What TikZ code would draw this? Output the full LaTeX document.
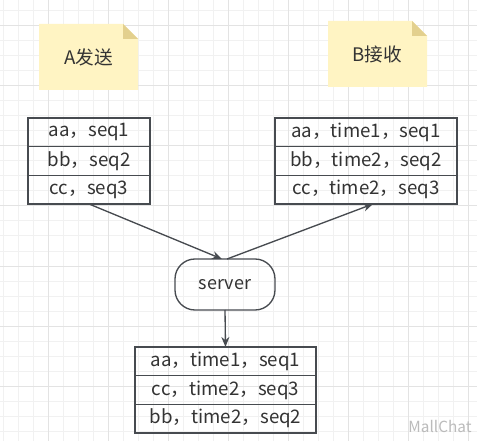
\documentclass[tikz,border=0pt]{standalone}
\usepackage{fontspec}
\setmainfont{Noto Sans CJK SC}
\usetikzlibrary{calc,positioning,arrows.meta}
\definecolor{gridminor}{HTML}{F1F1F1}
\definecolor{gridmajor}{HTML}{E3E3E3}
\definecolor{linegray}{HTML}{474B50}
\definecolor{textgray}{HTML}{333333}
\definecolor{notefill}{HTML}{FFF4C3}
\definecolor{notefold}{HTML}{E3D08E}
\definecolor{markgray}{HTML}{BBBBBB}
\tikzset{
  row/.style={draw=linegray, line width=1pt, outer sep=0pt, inner sep=0pt,
    minimum height=21.5pt, text=textgray, font=\fontsize{14}{16}\selectfont},
  notebox/.style={minimum width=74.25pt, minimum height=49.5pt, inner sep=0pt,
    outer sep=0pt, text=textgray, font=\fontsize{14}{16}\selectfont},
  serverbox/.style={draw=linegray, line width=1pt, rounded corners=15pt,
    minimum width=75pt, minimum height=38.25pt, outer sep=0pt,
    text=textgray, font=\fontsize{13.5}{16}\selectfont},
  flow/.style={draw=linegray, line width=1pt, -{Stealth[length=7.5pt,width=6pt]}}
}
\begin{document}
\begin{tikzpicture}[x=0.75pt,y=-0.75pt]
\useasboundingbox (0,0) rectangle (477,441);
% background grid
\fill[white] (0,0) rectangle (477,441);
\foreach \gx in {3.5,18.5,...,476} \draw[gridminor, line width=0.75pt] (\gx,0) -- (\gx,441);
\foreach \gy in {11,26,...,440} \draw[gridminor, line width=0.75pt] (0,\gy) -- (477,\gy);
\foreach \gx in {48.5,108.5,...,476} \draw[gridmajor, line width=0.75pt] (\gx,0) -- (\gx,441);
\foreach \gy in {26,86,...,440} \draw[gridmajor, line width=0.75pt] (0,\gy) -- (477,\gy);

% notes
\node[notebox] (sendNote) at (88.5,57) {};
\node[notebox] (recvNote) at (377.5,54) {};
\foreach \n in {sendNote,recvNote}{
  \fill[notefill] (\n.north west) -- ($(\n.north east)+(-15,0)$) -- ($(\n.north east)+(0,15)$)
    -- (\n.south east) -- (\n.south west) -- cycle;
  \fill[notefold] ($(\n.north east)+(-15,0)$) -- ($(\n.north east)+(-15,15)$)
    -- ($(\n.north east)+(0,15)$) -- cycle;
}
\node[notebox] at (sendNote) {A发送};
\node[notebox] at (recvNote) {B接收};

% sender table
\node[row, minimum width=91.5pt] (a1) at (89,132.3) {aa，seq1};
\node[row, minimum width=91.5pt, below=0pt of a1] (a2) {bb，seq2};
\node[row, minimum width=91.5pt, below=0pt of a2] (a3) {cc，seq3};

% receiver table
\node[row, minimum width=136.5pt] (b1) at (366,132.3) {aa，time1，seq1};
\node[row, minimum width=136.5pt, below=0pt of b1] (b2) {bb，time2，seq2};
\node[row, minimum width=136.5pt, below=0pt of b2] (b3) {cc，time2，seq3};

% server
\node[serverbox] (server) at (225,284.5) {server};

% stored table
\node[row, minimum width=135.75pt] (s1) at (225.5,361.3) {aa，time1，seq1};
\node[row, minimum width=135.75pt, below=0pt of s1] (s2) {cc，time2，seq3};
\node[row, minimum width=135.75pt, below=0pt of s2] (s3) {bb，time2，seq2};

% arrows
\draw[flow] (a3.south) -- ($(server.north)+(-3,0)$);
\draw[flow] ($(server.north)+(2,0)$) -- ($(b3.south)+(7,0)$);
\draw[flow] (server.south) -- (s1.north);

% watermark
\node[text=markgray, font=\fontsize{11.5}{13}\selectfont] (mark) at (440,426) {MallChat};
\end{tikzpicture}
\end{document}
